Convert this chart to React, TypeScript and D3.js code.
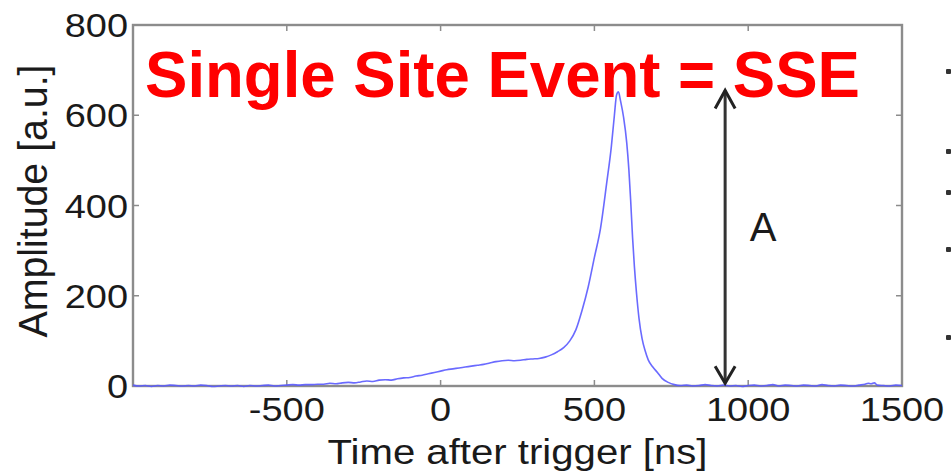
import React from "react";
import * as d3 from "d3";

const times: number[] = [
  -1000, -980, -960, -940, -920, -900, -880, -860, -840, -820, -800, -780, -760, -740, -720, -700,
  -680, -660, -640, -620, -600, -580, -560, -540, -520, -500, -480, -460, -440, -420, -400, -380,
  -360, -340, -320, -300, -280, -260, -240, -220, -200, -180, -160, -140, -120, -100, -80, -60,
  -40, -20, 0, 20, 40, 60, 80, 100, 120, 140, 160, 180, 200, 220, 240, 260, 280, 300, 320, 340,
  360, 380, 400, 420, 440, 460, 480, 500, 520, 540, 555, 565, 572, 578, 585, 595, 605, 612, 618,
  624, 630, 637, 645, 655, 665, 675, 690, 705, 720, 740, 760, 780, 800, 820, 840, 860, 880, 900,
  920, 940, 960, 980, 1000, 1020, 1040, 1060, 1080, 1100, 1120, 1140, 1160, 1180, 1200, 1220,
  1240, 1260, 1280, 1300, 1320, 1340, 1360, 1380, 1390, 1400, 1410, 1420, 1440, 1460, 1480, 1500,
];
const amplitudes: number[] = [
  2, 0, 1, -1, 1, 0, 2, 1, 0, 1, 0, 2, 1, -1, 0, 1,
  0, 1, -1, 1, 0, 1, 2, 0, 1, 2, 3, 2, 3, 3, 4, 4,
  6, 5, 7, 8, 7, 9, 11, 10, 13, 14, 13, 16, 18, 19, 22, 24,
  27, 30, 33, 36, 38, 40, 42, 44, 46, 48, 51, 54, 56, 57, 56, 57, 59, 60, 61, 64,
  69, 76, 85, 100, 125, 168, 220, 285, 350, 450, 530, 600, 645, 652, 632, 595, 540, 480, 410,
  330, 265, 205, 150, 105, 78, 58, 42, 30, 17, 8, 3, 1, 2, 0, 1, 3, 1, 0,
  2, 0, 1, -1, 1, 2, 0, 1, 3, 0, 2, 1, 0, 2, 1, 0,
  3, 1, 0, 2, 1, 0, 2, 4, 6, 5, 7, 2, 1, 0, 2, 1,
];

const xTicks: number[] = [-500, 0, 500, 1000, 1500];
const yTicks: number[] = [0, 200, 400, 600, 800];
const xDomain: number[] = [-1000, 1500];
const yDomain: number[] = [0, 800];
const arrowTime = 925;
const arrowTop = 655;
const arrowBottom = 6;
const edgeMarks: number[] = [72, 152, 193, 250, 338];

const FONT = "'Liberation Sans', Arial, Helvetica, sans-serif";

export default function App() {
  const W = 951;
  const H = 472;
  const left = 133, right = 902, top = 25, bottom = 386;
  const x = d3.scaleLinear().domain(xDomain).range([left, right]);
  const y = d3.scaleLinear().domain(yDomain).range([bottom, top]);
  const data = times.map((t, i) => [t, amplitudes[i]] as [number, number]);
  const line = d3
    .line<[number, number]>()
    .x((d) => x(d[0]))
    .y((d) => y(d[1]))
    .curve(d3.curveMonotoneX);
  const axisColor = "#8c8c8c";
  const tickLen = 6;
  const ax = x(arrowTime);
  const at = y(arrowTop);
  const ab = y(arrowBottom);
  const sx = 1.15;
  return (
    <svg width={W} height={H} style={{ position: "absolute", left: 0, top: 0, background: "#fff" }}>
      <rect x={0} y={0} width={W} height={H} fill="#fff" />
      {/* box */}
      <rect x={left} y={top} width={right - left} height={bottom - top} fill="none" stroke={axisColor} strokeWidth={2.4} />
      {/* ticks */}
      {yTicks.map((v) => (
        <g key={"yt" + v}>
          <line x1={left} x2={left + tickLen} y1={y(v)} y2={y(v)} stroke={axisColor} strokeWidth={1.5} />
          <line x1={right} x2={right - tickLen} y1={y(v)} y2={y(v)} stroke={axisColor} strokeWidth={1.5} />
          <g transform={`translate(${left - 5},${y(v) + 12}) scale(${sx},1)`}>
            <text x={0} y={0} textAnchor="end" fontFamily={FONT} fontSize={33} fill="#1a1a1a">
              {v}
            </text>
          </g>
        </g>
      ))}
      {xTicks.map((v) => (
        <g key={"xt" + v}>
          <line x1={x(v)} x2={x(v)} y1={bottom} y2={bottom - tickLen} stroke={axisColor} strokeWidth={1.5} />
          <line x1={x(v)} x2={x(v)} y1={top} y2={top + tickLen} stroke={axisColor} strokeWidth={1.5} />
          <g transform={`translate(${x(v)},${421}) scale(${sx},1)`}>
            <text x={0} y={0} textAnchor="middle" fontFamily={FONT} fontSize={33} fill="#1a1a1a">
              {v}
            </text>
          </g>
        </g>
      ))}
      {/* axis labels */}
      <text
        x={(left + right) / 2}
        y={464}
        textAnchor="middle"
        fontFamily={FONT}
        fontSize={35}
        fill="#1a1a1a"
        textLength={380}
        lengthAdjust="spacingAndGlyphs"
      >
        Time after trigger [ns]
      </text>
      <text
        transform={`translate(47,201) rotate(-90)`}
        x={0}
        y={0}
        textAnchor="middle"
        fontFamily={FONT}
        fontSize={40}
        fill="#1a1a1a"
        textLength={273}
        lengthAdjust="spacingAndGlyphs"
      >
        Amplitude [a.u.]
      </text>
      {/* curve */}
      <path d={line(data) || ""} fill="none" stroke="#5a5aff" strokeWidth={1.6} strokeOpacity={0.9} />
      {/* arrow */}
      <line x1={ax} x2={ax} y1={at} y2={ab} stroke="#333" strokeWidth={3} />
      <polyline points={`${ax - 10},${at + 18} ${ax},${at} ${ax + 10},${at + 18}`} fill="none" stroke="#222" strokeWidth={3} />
      <polyline points={`${ax - 10},${ab - 17} ${ax},${ab} ${ax + 10},${ab - 17}`} fill="none" stroke="#222" strokeWidth={3} />
      <text x={ax + 38} y={241} textAnchor="middle" fontFamily={FONT} fontSize={40} fill="#1a1a1a">
        A
      </text>
      {/* title */}
      <text
        x={145}
        y={97}
        fontFamily={FONT}
        fontWeight="bold"
        fontSize={64}
        fill="#ff0000"
        textLength={715}
        lengthAdjust="spacingAndGlyphs"
      >
        Single Site Event = SSE
      </text>
      {/* cut-off marks at right edge */}
      {edgeMarks.map((m, i) => (
        <rect key={"em" + i} x={946} y={m - 3} width={5} height={5} fill="#333" rx={1} />
      ))}
    </svg>
  );
}
